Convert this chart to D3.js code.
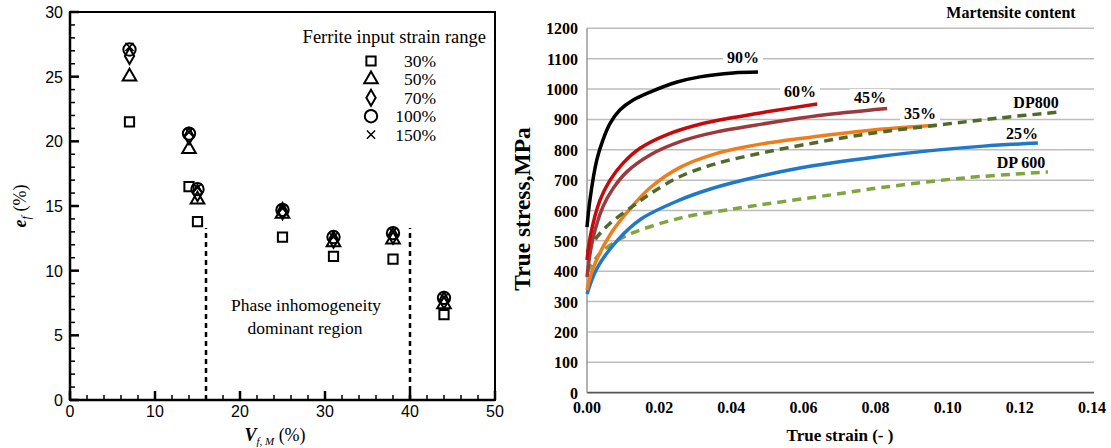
<!DOCTYPE html>
<html>
<head>
<meta charset="utf-8">
<script src="https://cdn.jsdelivr.net/npm/d3@7"></script>
<style>
  body { margin: 0; background: #fff; }
  svg { display: block; }
</style>
</head>
<body>
<script>
// ---------- left chart data: elongation vs martensite fraction ----------
var vfm = [7, 14, 15, 25, 31, 38, 44]
var ef30 = [21.5, 16.5, 13.8, 12.6, 11.1, 10.9, 6.6]
var ef50 = [25.0, 19.4, 15.5, 14.4, 12.2, 12.4, 7.4]
var ef70 = [26.6, 20.4, 16.0, 14.6, 12.4, 12.7, 7.7]
var ef100 = [27.1, 20.6, 16.3, 14.7, 12.6, 12.9, 7.9]
var ef150 = [27.3, 20.7, 16.4, 14.8, 12.6, 13.0, 7.9]
var legendLabels = ["30%", "50%", "70%", "100%", "150%"]
var xTicksL = [0, 10, 20, 30, 40, 50]
var yTicksL = [0, 5, 10, 15, 20, 25, 30]

// ---------- right chart data: true stress vs true strain ----------
var strain90 = [0, 0.0008, 0.0027, 0.0044, 0.0064, 0.0091, 0.0128, 0.0175, 0.025, 0.0313, 0.0405, 0.0474]
var stress90 = [545, 634, 766, 832, 887, 931, 964, 990, 1023, 1040, 1053, 1056]
var strain60 = [0, 0.001, 0.0036, 0.0064, 0.01, 0.0147, 0.0222, 0.0313, 0.0405, 0.0499, 0.0638]
var stress60 = [437, 520, 634, 700, 756, 805, 850, 884, 906, 925, 951]
var strain45 = [0, 0.0015, 0.0044, 0.0072, 0.0111, 0.0175, 0.0266, 0.036, 0.0499, 0.0638, 0.0832]
var stress45 = [381, 500, 612, 672, 728, 783, 830, 859, 887, 912, 936]
var strain35 = [0, 0.0017, 0.0064, 0.0119, 0.0175, 0.0258, 0.036, 0.0499, 0.0646, 0.0821, 0.097]
var stress35 = [338, 410, 520, 605, 675, 742, 788, 822, 845, 868, 881]
var strain25 = [0, 0.0028, 0.0083, 0.015, 0.0258, 0.034, 0.044, 0.059, 0.081, 0.096, 0.11, 0.125]
var stress25 = [325, 410, 500, 572, 635, 670, 702, 740, 778, 798, 812, 822]
var strainDP800 = [0, 0.0028, 0.0064, 0.0128, 0.0175, 0.0258, 0.036, 0.0499, 0.0646, 0.0776, 0.097, 0.1145, 0.1317]
var stressDP800 = [463, 513, 558, 615, 655, 712, 755, 793, 826, 852, 881, 905, 925]
var strainDP600 = [0, 0.0036, 0.0083, 0.0128, 0.0258, 0.0405, 0.05, 0.068, 0.0812, 0.1053, 0.1278]
var stressDP600 = [397, 459, 500, 527, 575, 605, 622, 652, 675, 708, 727]
var xTicksR = [0, 0.02, 0.04, 0.06, 0.08, 0.10, 0.12, 0.14]
var yTicksR = [0, 100, 200, 300, 400, 500, 600, 700, 800, 900, 1000, 1100, 1200]

var svg = d3.select("body").append("svg")
    .attr("width", 1111)
    .attr("height", 448)

var sans = "'Liberation Sans', Arial, sans-serif"
var serif = "'Liberation Serif', 'Times New Roman', serif"

// ================= LEFT CHART =================
var xL = d3.scaleLinear().domain([0, 50]).range([70, 495])
var yL = d3.scaleLinear().domain([0, 30]).range([400, 12])
var left = svg.append("g")

// frame
left.append("rect")
    .attr("x", xL(0)).attr("y", yL(30))
    .attr("width", xL(50) - xL(0)).attr("height", yL(0) - yL(30))
    .attr("fill", "none").attr("stroke", "#000").attr("stroke-width", 2)

// ticks, inward
d3.range(0, 51, 2).forEach(function(v){
    var major = v % 10 == 0
    left.append("line")
        .attr("x1", xL(v)).attr("x2", xL(v))
        .attr("y1", yL(0)).attr("y2", yL(0) - (major ? 9 : 5))
        .attr("stroke", "#000").attr("stroke-width", major ? 2.5 : 1.5)
})
d3.range(0, 31, 1).forEach(function(v){
    var major = v % 5 == 0
    left.append("line")
        .attr("x1", xL(0)).attr("x2", xL(0) + (major ? 9 : 5))
        .attr("y1", yL(v)).attr("y2", yL(v))
        .attr("stroke", "#000").attr("stroke-width", major ? 2.5 : 1.5)
})
// thick axes
left.append("line").attr("x1", xL(0)).attr("x2", xL(50)).attr("y1", yL(0)).attr("y2", yL(0))
    .attr("stroke", "#000").attr("stroke-width", 2.5)
left.append("line").attr("x1", xL(0)).attr("x2", xL(0)).attr("y1", yL(0)).attr("y2", yL(30))
    .attr("stroke", "#000").attr("stroke-width", 2.5)

left.selectAll(".xtl").data(xTicksL).enter().append("text")
    .attr("x", function(d){ return xL(d) }).attr("y", 417)
    .attr("text-anchor", "middle")
    .style("font-family", sans).style("font-size", "16px")
    .text(function(d){ return d })
left.selectAll(".ytl").data(yTicksL).enter().append("text")
    .attr("x", 63).attr("y", function(d){ return yL(d) + 6 })
    .attr("text-anchor", "end")
    .style("font-family", sans).style("font-size", "16px")
    .text(function(d){ return d })

// axis titles
var yt = left.append("text")
    .attr("transform", "translate(26,206) rotate(-90)")
    .attr("text-anchor", "middle")
    .style("font-family", serif).style("font-size", "18px")
yt.append("tspan").text("e").style("font-weight", "bold").style("font-style", "italic")
yt.append("tspan").text("f").attr("dy", 4).style("font-size", "12px").style("font-style", "italic")
yt.append("tspan").text(" (%)").attr("dy", -4)

var xt = left.append("text")
    .attr("x", 275).attr("y", 441)
    .attr("text-anchor", "middle")
    .style("font-family", serif).style("font-size", "18px")
xt.append("tspan").text("V").style("font-weight", "bold").style("font-style", "italic")
xt.append("tspan").text("f, M").attr("dy", 4).style("font-size", "11px").style("font-style", "italic")
xt.append("tspan").text(" (%)").attr("dy", -4)

// dashed region lines
;[16, 40].forEach(function(v){
    left.append("line")
        .attr("x1", xL(v)).attr("x2", xL(v))
        .attr("y1", yL(0)).attr("y2", yL(13.3))
        .attr("stroke", "#000").attr("stroke-width", 2.5)
        .attr("stroke-dasharray", "5,4")
})

left.append("text").attr("x", 306).attr("y", 311).attr("text-anchor", "middle")
    .style("font-family", serif).style("font-size", "17.5px").text("Phase inhomogeneity")
left.append("text").attr("x", 305).attr("y", 334).attr("text-anchor", "middle")
    .style("font-family", serif).style("font-size", "17.5px").text("dominant region")

// markers
var symbols = [
    d3.symbol().type(d3.symbolSquare).size(85),
    d3.symbol().type(d3.symbolTriangle).size(80),
    d3.symbol().type(d3.symbolDiamond).size(75),
    d3.symbol().type(d3.symbolCircle).size(120),
    d3.symbol().type(d3.symbolTimes).size(45)
]
var seriesL = [ef30, ef50, ef70, ef100, ef150]
seriesL.forEach(function(vals, si){
    vals.forEach(function(v, i){
        left.append("path")
            .attr("d", symbols[si]())
            .attr("transform", "translate(" + xL(vfm[i]) + "," + yL(v) + ")")
            .attr("fill", "none").attr("stroke", "#000").attr("stroke-width", si == 4 ? 1.5 : 2)
    })
})

// legend
left.append("text").attr("x", 486).attr("y", 43).attr("text-anchor", "end")
    .style("font-family", serif).style("font-size", "18.5px").text("Ferrite input strain range")
legendLabels.forEach(function(lab, i){
    var ly = 61 + i * 18.4
    left.append("path")
        .attr("d", symbols[i]())
        .attr("transform", "translate(371," + ly + ")")
        .attr("fill", "none").attr("stroke", "#000").attr("stroke-width", i == 4 ? 1.5 : 2)
    left.append("text").attr("x", 436).attr("y", ly + 6).attr("text-anchor", "end")
        .style("font-family", serif).style("font-size", "17.5px").text(lab)
})

// ================= RIGHT CHART =================
var xR = d3.scaleLinear().domain([0, 0.14]).range([587, 1092])
var yR = d3.scaleLinear().domain([0, 1200]).range([392.7, 28.3])
var right = svg.append("g")

right.selectAll(".grid").data(yTicksR.slice(1)).enter().append("line")
    .attr("x1", xR(0)).attr("x2", 1094)
    .attr("y1", function(d){ return yR(d) }).attr("y2", function(d){ return yR(d) })
    .attr("stroke", "#bdbdbd").attr("stroke-width", 1.5)
right.append("line").attr("x1", xR(0)).attr("x2", 1094).attr("y1", yR(0)).attr("y2", yR(0))
    .attr("stroke", "#555").attr("stroke-width", 1.8)
right.append("line").attr("x1", xR(0)).attr("x2", xR(0)).attr("y1", yR(0)).attr("y2", yR(1200))
    .attr("stroke", "#999").attr("stroke-width", 1.5)

right.selectAll(".ytr").data(yTicksR).enter().append("text")
    .attr("x", 578).attr("y", function(d){ return yR(d) + 6 })
    .attr("text-anchor", "end")
    .style("font-family", serif).style("font-size", "16px").style("font-weight", "bold")
    .text(function(d){ return d })
right.selectAll(".xtr").data(xTicksR).enter().append("text")
    .attr("x", function(d){ return xR(d) }).attr("y", 413)
    .attr("text-anchor", "middle")
    .style("font-family", serif).style("font-size", "16px").style("font-weight", "bold")
    .text(function(d){ return d.toFixed(2) })

right.append("text")
    .attr("transform", "translate(530,209) rotate(-90)")
    .attr("text-anchor", "middle")
    .style("font-family", serif).style("font-size", "23.5px").style("font-weight", "bold")
    .text("True stress,MPa")
right.append("text").attr("x", 840).attr("y", 441).attr("text-anchor", "middle")
    .style("font-family", serif).style("font-size", "17px").style("font-weight", "bold")
    .text("True strain (- )")
right.append("text").attr("x", 1011).attr("y", 18).attr("text-anchor", "middle")
    .style("font-family", serif).style("font-size", "16px").style("font-weight", "bold")
    .text("Martensite content")

// curve labels with white boxes over the grid
var curveLabels = [
    {t: "90%", x: 743, y: 57},
    {t: "60%", x: 800, y: 91},
    {t: "45%", x: 870, y: 97},
    {t: "35%", x: 920, y: 113},
    {t: "DP800", x: 1036, y: 102},
    {t: "25%", x: 1022, y: 133},
    {t: "DP 600", x: 1021, y: 162}
]
curveLabels.forEach(function(c){
    var txt = right.append("text").attr("x", c.x).attr("y", c.y + 6).attr("text-anchor", "middle")
        .style("font-family", serif).style("font-size", "16px").style("font-weight", "bold")
        .text(c.t)
    var bb = txt.node().getBBox()
    right.insert("rect", "text")
        .attr("x", bb.x - 4).attr("y", bb.y).attr("width", bb.width + 8).attr("height", bb.height)
        .attr("fill", "#fff")
})

var line = d3.line()
    .x(function(d){ return xR(d[0]) })
    .y(function(d){ return yR(d[1]) })
    .curve(d3.curveCatmullRom.alpha(0.5))

var curves = [
    {x: strainDP600, y: stressDP600, c: "#7fa63e", dash: "9,6"},
    {x: strain25, y: stress25, c: "#1f78c8"},
    {x: strain35, y: stress35, c: "#ef7d1c"},
    {x: strainDP800, y: stressDP800, c: "#4f6a2a", dash: "9,6"},
    {x: strain45, y: stress45, c: "#9b3a3c"},
    {x: strain60, y: stress60, c: "#c40a0a"},
    {x: strain90, y: stress90, c: "#000000"}
]
curves.forEach(function(cv){
    right.append("path")
        .datum(d3.zip(cv.x, cv.y))
        .attr("d", line)
        .attr("fill", "none")
        .attr("stroke", cv.c)
        .attr("stroke-width", 3.5)
        .attr("stroke-dasharray", cv.dash || null)
})
</script>
</body>
</html>
